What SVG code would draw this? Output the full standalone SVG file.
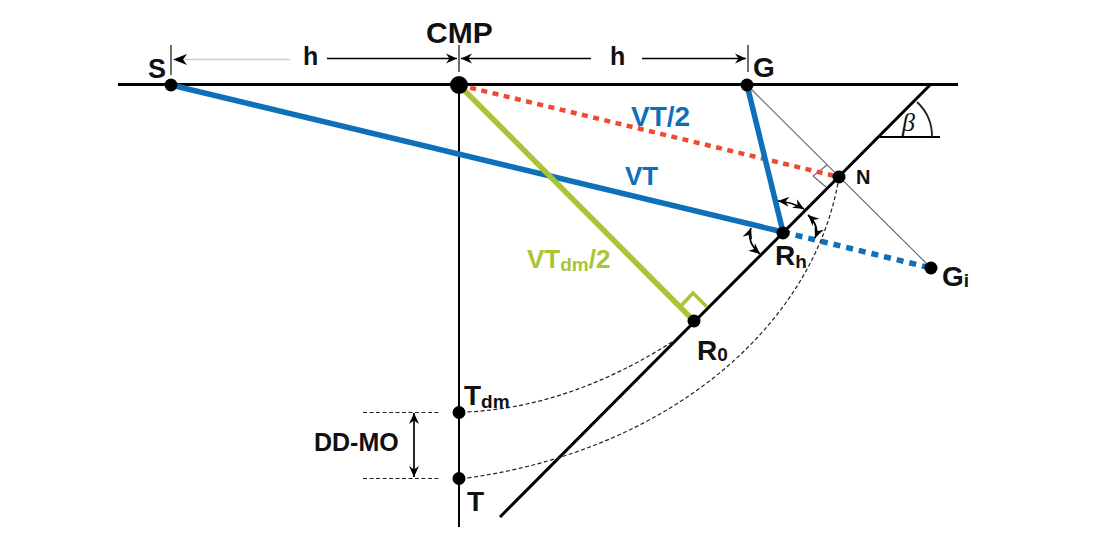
<svg xmlns="http://www.w3.org/2000/svg" width="1100" height="540" viewBox="0 0 1100 540">
<style>
text{font-family:"Liberation Sans",Arial,sans-serif;font-weight:bold;fill:#111;font-size:28px}
.sub{font-size:19px}
.blue{fill:#0f70ba}
.green{fill:#a9c535}
.k{stroke:#000;stroke-width:3;fill:none}
.thin{stroke:#222;stroke-width:1.300;fill:none}
.gray{stroke:#666;stroke-width:1.100;fill:none}
.dash{stroke:#222;stroke-width:1.200;stroke-dasharray:4 2.500;fill:none}
.arr{stroke:#000;stroke-width:1.500;fill:none;marker-end:url(#a)}
.arrb{stroke:#000;stroke-width:1.700;fill:none;marker-end:url(#a);marker-start:url(#as)}
.bl{stroke:#0f70ba;stroke-width:5.500;fill:none}
.head{fill:#000}
.dot{fill:#000}
</style>
<defs>
<marker id="a" markerWidth="14" markerHeight="12" refX="12" refY="5.500" orient="auto" markerUnits="userSpaceOnUse"><path class="head" d="M1 0.500L12 5.500L1 10.500L4.500 5.500Z"/></marker>
<marker id="as" markerWidth="14" markerHeight="12" refX="1" refY="5.500" orient="auto" markerUnits="userSpaceOnUse"><path class="head" d="M12 0.500L1 5.500L12 10.500L8.500 5.500Z"/></marker>
</defs>
<g id="connectors">
<line class="k" x1="118" y1="84.500" x2="958" y2="84.500"/>
<line class="k" style="stroke-width:2" x1="459" y1="85" x2="459" y2="527"/>
<line class="k" x1="931" y1="84" x2="500" y2="517"/>
<line class="k" style="stroke-width:1.800" x1="880" y1="137" x2="940" y2="137"/>
<path class="thin" style="stroke-width:1.800" d="M917 102A47 47 0 0 1 932 137"/>
<line class="thin" x1="171" y1="45" x2="171" y2="75"/>
<line class="thin" x1="459" y1="45" x2="459" y2="72"/>
<line class="thin" x1="748" y1="45" x2="748" y2="72"/>
<line x1="290" y1="59.500" x2="178" y2="59.500" stroke="#ccc" stroke-width="1.500"/>
<path class="head" d="M173 59.500L187 54L183 59.500L187 65Z"/>
<line class="arr" x1="327" y1="58.500" x2="457" y2="58.500"/>
<line class="arr" x1="591" y1="58.500" x2="461" y2="58.500"/>
<line class="arr" x1="642" y1="58.500" x2="746" y2="58.500"/>
<line class="gray" x1="750" y1="88" x2="931" y2="268"/>
<path class="gray" d="M827 165L813 176L826 187"/>
<line x1="459" y1="85" x2="839" y2="177" stroke="#ee4a32" stroke-width="4.500" stroke-dasharray="6 5.500"/>
<line class="bl" x1="171" y1="85" x2="783" y2="232"/>
<line class="bl" x1="747" y1="85" x2="783" y2="232"/>
<line class="bl" x1="783" y1="232" x2="931" y2="268" stroke-dasharray="7 6"/>
<line x1="459" y1="85" x2="694" y2="321" stroke="#a9c535" stroke-width="5.500"/>
<path d="M680 307L693 293L707 307" fill="none" stroke="#a9c535" stroke-width="3.500"/>
<path class="arrb" d="M778 201Q792 202 804 209"/>
<path class="arrb" d="M808 215Q820 226 815 238"/>
<path class="arrb" d="M751 228Q746 242 760 254"/>
<path class="dash" d="M839 177C815 325 670 450 467 478"/>
<path class="dash" d="M672 342C620 375 550 408 467 412"/>
<line class="dash" x1="363" y1="412.500" x2="440" y2="412.500"/>
<line class="dash" x1="363" y1="478.500" x2="440" y2="478.500"/>
<line class="arrb" x1="414" y1="413" x2="414" y2="477"/>
</g>
<g id="S"><circle class="dot" cx="171" cy="85" r="6.500"/><text x="148" y="78" style="font-size:27px">S</text></g>
<g id="CMP"><circle class="dot" cx="459" cy="85" r="9"/><text x="426" y="43" style="font-size:30px">CMP</text></g>
<g id="G"><circle class="dot" cx="747" cy="85" r="6.500"/><text x="753" y="77">G</text></g>
<g id="N"><circle class="dot" cx="839" cy="177" r="6.500"/><text x="856" y="184" style="font-size:20px">N</text></g>
<g id="Rh"><circle class="dot" cx="783" cy="233" r="6.500"/><text x="775" y="265">R<tspan class="sub" dy="3">h</tspan></text></g>
<g id="Gi"><circle class="dot" cx="931" cy="268" r="6.500"/><text x="942" y="286">G<tspan class="sub" dy="1">i</tspan></text></g>
<g id="R0"><circle class="dot" cx="694" cy="321" r="6.500"/><text x="697" y="360">R<tspan class="sub" dy="1">0</tspan></text></g>
<g id="Tdm"><circle class="dot" cx="459" cy="412.500" r="6.500"/><text x="464" y="405">T<tspan class="sub" dy="3">dm</tspan></text></g>
<g id="T"><circle class="dot" cx="459" cy="478.500" r="6.500"/><text x="467" y="511">T</text></g>
<g id="labels">
<text x="303" y="65" style="font-size:25px">h</text>
<text x="610" y="65" style="font-size:25px">h</text>
<text class="blue" x="631" y="126">VT/2</text>
<text class="blue" x="625" y="185" style="font-size:26px">VT</text>
<text class="green" x="527" y="268" style="font-size:26px">VT<tspan class="sub" dy="3">dm</tspan><tspan dy="-3">/2</tspan></text>
<text x="314" y="451" style="font-size:25px">DD-MO</text>
<text x="902" y="131" style="font-family:'Liberation Serif',serif;font-style:italic;font-weight:normal;font-size:26px">β</text>
</g>
</svg>
